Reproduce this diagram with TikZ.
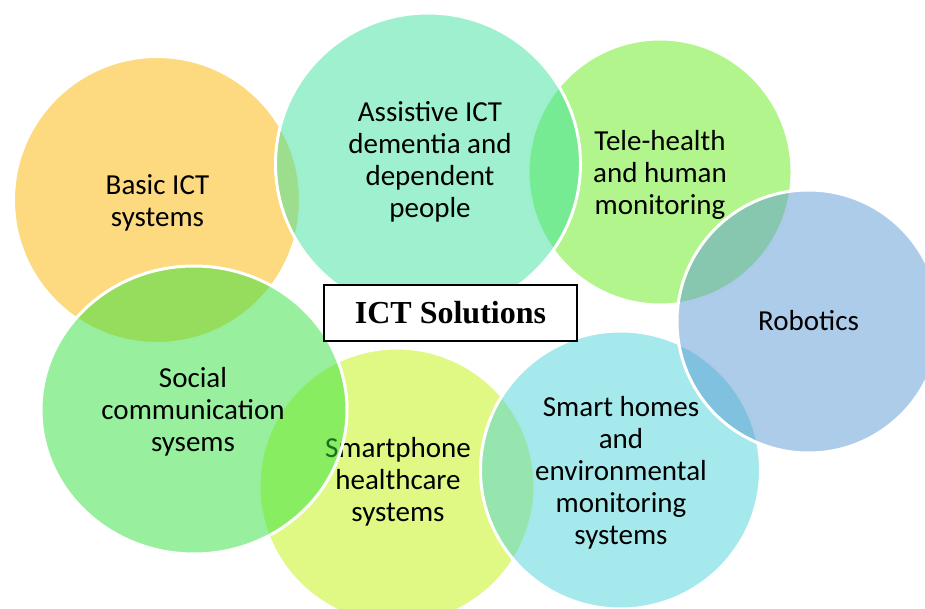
\documentclass[tikz,border=0pt]{standalone}
\usepackage{fontspec}
\setmainfont{Carlito}
\newfontfamily\titlefont{Liberation Serif}
\usetikzlibrary{shapes.geometric}
\definecolor{basicC}{RGB}{251,181,1}
\definecolor{assistC}{RGB}{61,225,157}
\definecolor{teleC}{RGB}{103,235,27}
\definecolor{roboC}{RGB}{91,153,211}
\definecolor{socialC}{RGB}{49,225,61}
\definecolor{phoneC}{RGB}{193,243,11}
\definecolor{homeC}{RGB}{77,211,217}
\tikzset{
  bubble/.style={ellipse, inner sep=0pt, draw=white, line width=3pt, fill=#1, fill opacity=0.5},
  blabel/.style={align=center, text=black, inner sep=0pt, font=\fontsize{29}{32}\selectfont},
  titlebox/.style={draw=black, line width=2.5pt, fill=white, minimum width=253pt, minimum height=56pt, inner sep=0pt, font=\titlefont\bfseries\fontsize{32}{36}\selectfont}
}
\begin{document}
\begin{tikzpicture}[x=1pt,y=-1pt]
\useasboundingbox (0,0) rectangle (925,609);
% Basic ICT
\node[bubble=basicC, minimum width=287pt, minimum height=287pt] (basic) at (157,200) {};
\node[blabel] (basicT) at (157.5,204.1) {\strut Basic ICT\\systems\strut};
% Smartphone
\node[bubble=phoneC, minimum width=276pt, minimum height=276pt] (phone) at (397,486) {};
\node[blabel] (phoneT) at (398,483) {\strut Smartphone\\healthcare\\systems\strut};
% Social
\node[bubble=socialC, minimum width=306pt, minimum height=288pt] (social) at (194,410) {};
\node[blabel] (socialT) at (193,412.8) {\strut Social\\communication\\sysems\strut};
% Tele-health
\node[bubble=teleC, minimum width=264pt, minimum height=266pt] (tele) at (660,172) {};
\node[blabel] (teleT) at (660,176.1) {\strut Tele-health\\and human\\monitoring\strut};
% Assistive
\node[bubble=assistC, minimum width=305pt, minimum height=302pt] (assist) at (428,164) {};
\node[blabel] (assistT) at (430,163.5) {\strut Assistive ICT\\dementia and\\dependent\\people\strut};
% Smart homes
\node[bubble=homeC, minimum width=280pt, minimum height=278pt] (home) at (620.5,470) {};
\node[blabel] (homeT) at (621,473.8) {\strut Smart homes\\and\\environmental\\monitoring\\systems\strut};
% Robotics
\node[bubble=roboC, minimum width=263pt, minimum height=263pt] (robo) at (808.5,321.5) {};
\node[blabel] (roboT) at (808.5,323.6) {\strut Robotics\strut};
% Title
\node[titlebox] (title) at (450.5,313) {ICT Solutions};
\end{tikzpicture}
\end{document}
